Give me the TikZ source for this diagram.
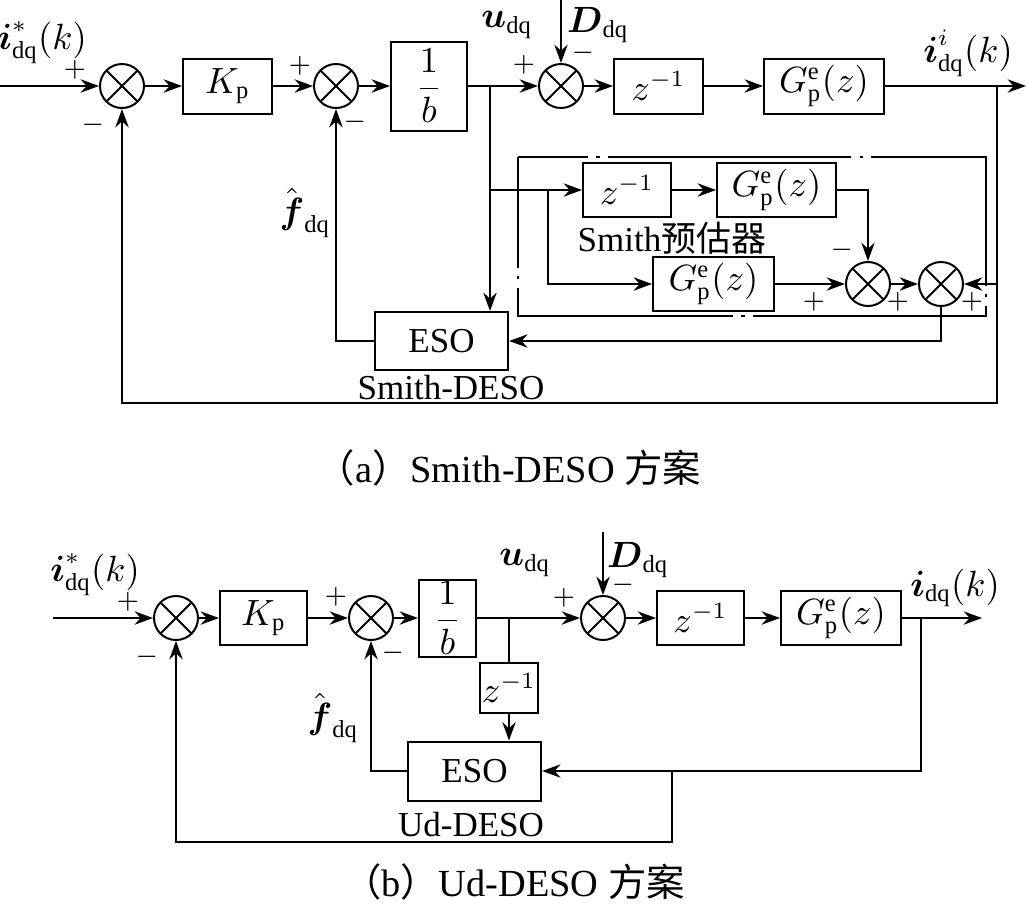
\documentclass[tikz,border=0pt]{standalone}
\usepackage{amsmath}
\usepackage{fontspec}
\setmainfont{Liberation Serif}
\newfontfamily\cjk{Noto Sans CJK SC}
\usetikzlibrary{arrows.meta}
\begin{document}
\begin{tikzpicture}[x=0.3pt,y=-0.3pt,line width=0.6pt,
  >={Stealth[length=5.5pt,width=4pt]},
  font=\fontsize{10.5}{12}\selectfont,
  every node/.append style={inner sep=1pt},
  blk/.style={draw, inner sep=0pt, minimum height=16.5pt},
  sumnode/.style={draw, circle, inner sep=0pt, minimum size=13.2pt,
    path picture={\draw (path picture bounding box.north west) -- (path picture bounding box.south east)
      (path picture bounding box.north east) -- (path picture bounding box.south west);}},
  sgn/.style={inner sep=0pt, font=\fontsize{8.5}{10}\selectfont}]
\useasboundingbox (0,0) rectangle (1028,923);
% (a) Smith-DESO
\coordinate (in0) at (0,86);
\node[sumnode] (s1) at (122,86) {};
\node[blk, minimum width=26.7pt] (kp) at (227.5,86) {$K_{\mathrm{p}}$};
\node[sumnode] (s2) at (336,86) {};
\node[blk, minimum width=22.8pt, minimum height=26.7pt] (inv) at (429,86) {$\dfrac{1}{b}$};
\coordinate (br1) at (490,86);
\node[sumnode] (s3) at (561,86) {};
\coordinate (dtop) at (561,0);
\node[blk, minimum width=26.7pt] (zd) at (658.5,86) {$z^{-1}$};
\node[blk, minimum width=36pt] (gp) at (824,86) {$G^{\mathrm{e}}_{\mathrm{p}}(z)$};
\coordinate (br2) at (997,86);
\coordinate (out) at (1026,86);
\coordinate (br3) at (490,190);
\coordinate (br4) at (548,190);
\node[blk, minimum width=26.4pt, minimum height=16.2pt] (zd2) at (627,190) {$z^{-1}$};
\node[blk, minimum width=35.7pt, minimum height=16.2pt] (gp2) at (776.5,190) {$G^{\mathrm{e}}_{\mathrm{p}}(z)$};
\node[blk, minimum width=36.3pt, minimum height=16.2pt] (gp3) at (713.5,284) {$G^{\mathrm{e}}_{\mathrm{p}}(z)$};
\node[sumnode] (s4) at (868,284) {};
\node[sumnode] (s5) at (941,284) {};
\coordinate (br5) at (997,284);
\node[blk, minimum width=40pt, minimum height=17.4pt] (eso) at (441.5,341) {ESO};
\draw[dash pattern=on 73pt off 2.5pt on 1pt off 2.5pt, dash phase=52pt]
  (518,157) -- (986,157) -- (986,316) -- (518,316) -- cycle;
\draw[->] (in0) -- (s1);
\draw[->] (s1) -- (kp);
\draw[->] (kp) -- (s2);
\draw[->] (s2) -- (inv);
\draw[->] (inv) -- (s3);
\draw[->] (dtop) -- (s3);
\draw[->] (s3) -- (zd);
\draw[->] (zd) -- (gp);
\draw[->] (gp) -- (out);
\draw[->] (br1) -- (br1 |- eso.north);
\draw[->] (br3) -- (zd2);
\draw[->] (zd2) -- (gp2);
\draw[->] (gp2.east) -| (s4.north);
\draw[->] (br4) |- (gp3);
\draw[->] (gp3) -- (s4);
\draw[->] (s4) -- (s5);
\draw[->] (br5) -- (s5);
\draw[->] (s5.south) |- (eso.east);
\draw[->] (eso.west) -| (s2.south);
\draw[->] (br2) -- (997,403) -| (s1.south);
\node[sgn] at (75,70) {$+$};
\node[sgn] at (93,125) {$-$};
\node[sgn] at (300,66) {$+$};
\node[sgn] at (355,122) {$-$};
\node[sgn] at (524,65) {$+$};
\node[sgn] at (583,53) {$-$};
\node[sgn] at (842,250) {$-$};
\node[sgn] at (814,302) {$+$};
\node[sgn] at (898,302) {$+$};
\node[sgn] at (972,302) {$+$};
\node (lin) at (42,43) {$\boldsymbol{i}^{*}_{\mathrm{dq}}(k)$};
\node (lu) at (507,25) {$\boldsymbol{u}_{\mathrm{dq}}$};
\node (ld) at (598,25) {$\boldsymbol{D}_{\mathrm{dq}}$};
\node (lout) at (968,53) {$\boldsymbol{i}^{i}_{\mathrm{dq}}(k)$};
\node (lf) at (305,213) {$\hat{\boldsymbol{f}}_{\mathrm{dq}}$};
\node (lsp) at (672,238) {Smith{\cjk 预估器}};
\node (lsd) at (451,388) {Smith-DESO};
\node[font=\fontsize{11.5}{13}\selectfont] (capa) at (509,468) {{\cjk （}a{\cjk ）}Smith-DESO {\cjk 方案}};
% (b) Ud-DESO
\coordinate (in0b) at (53,618);
\node[sumnode] (s1b) at (176,618) {};
\node[blk, minimum width=26.1pt, minimum height=16.2pt] (kpb) at (263.5,618) {$K_{\mathrm{p}}$};
\node[sumnode] (s2b) at (371,618) {};
\node[blk, minimum width=17.1pt, minimum height=23.1pt] (invb) at (447.5,618) {$\dfrac{1}{b}$};
\coordinate (br1b) at (509,618);
\node[sumnode] (s3b) at (603,618) {};
\coordinate (dtopb) at (603,532);
\node[blk, minimum width=26.1pt, minimum height=16.2pt] (zdb) at (700.5,618) {$z^{-1}$};
\node[blk, minimum width=36pt, minimum height=16.2pt] (gpb) at (841,618) {$G^{\mathrm{e}}_{\mathrm{p}}(z)$};
\coordinate (br2b) at (921,618);
\coordinate (outb) at (982,618);
\node[blk, minimum width=17.4pt, minimum height=15pt] (zsb) at (509,688) {$z^{-1}$};
\node[blk, minimum width=40pt, minimum height=17.7pt] (esob) at (474.5,771) {ESO};
\coordinate (br3b) at (672,771);
\draw[->] (in0b) -- (s1b);
\draw[->] (s1b) -- (kpb);
\draw[->] (kpb) -- (s2b);
\draw[->] (s2b) -- (invb);
\draw[->] (invb) -- (s3b);
\draw[->] (dtopb) -- (s3b);
\draw[->] (s3b) -- (zdb);
\draw[->] (zdb) -- (gpb);
\draw[->] (gpb) -- (outb);
\draw (br1b) -- (zsb);
\draw[->] (zsb.south) -- (zsb.south |- esob.north);
\draw[->] (br2b) |- (esob.east);
\draw[->] (br3b) -- (672,842) -| (s1b.south);
\draw[->] (esob.west) -| (s2b.south);
\node[sgn] at (128,602) {$+$};
\node[sgn] at (147,657) {$-$};
\node[sgn] at (336,597) {$+$};
\node[sgn] at (393,653) {$-$};
\node[sgn] at (564,598) {$+$};
\node[sgn] at (623,585) {$-$};
\node (linb) at (95,575) {$\boldsymbol{i}^{*}_{\mathrm{dq}}(k)$};
\node (lub) at (525,563) {$\boldsymbol{u}_{\mathrm{dq}}$};
\node (ldb) at (638,560) {$\boldsymbol{D}_{\mathrm{dq}}$};
\node (loutb) at (955,588) {$\boldsymbol{i}_{\mathrm{dq}}(k)$};
\node (lfb) at (333,718) {$\hat{\boldsymbol{f}}_{\mathrm{dq}}$};
\node (lud) at (471,825) {Ud-DESO};
\node[font=\fontsize{11.5}{13}\selectfont] (capb) at (514,882) {{\cjk （}b{\cjk ）}Ud-DESO {\cjk 方案}};
\end{tikzpicture}
\end{document}
